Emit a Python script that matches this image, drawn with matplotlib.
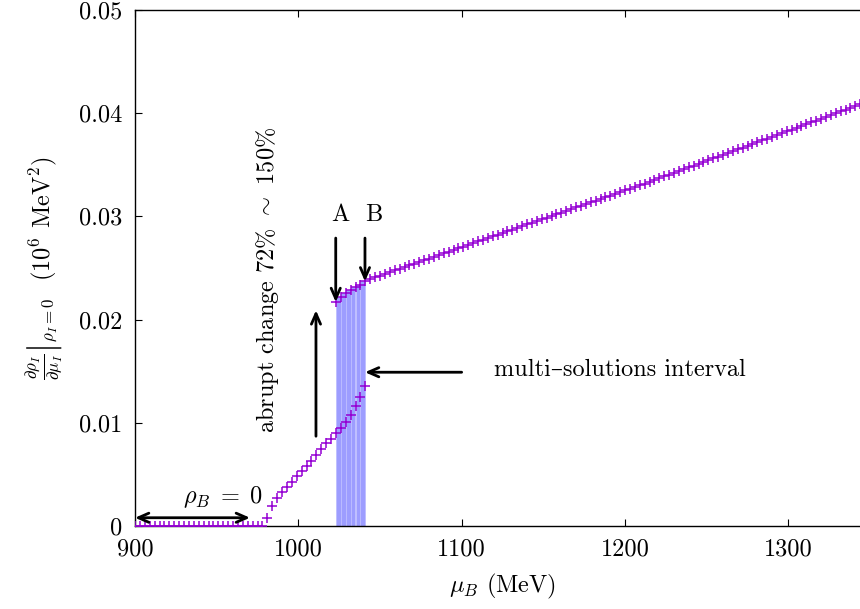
import numpy as np
import matplotlib
matplotlib.use("Agg")
import matplotlib.pyplot as plt

plt.rcParams['font.family'] = ['cmr10', 'DejaVu Serif']
plt.rcParams['mathtext.fontset'] = 'cm'
plt.rcParams['axes.formatter.use_mathtext'] = True
plt.rcParams['axes.unicode_minus'] = False

# ---------------- data ----------------
mu_zero = list(range(900, 979, 3))
val_zero = [0.0] * len(mu_zero)

mu_lower = list(range(981, 1042, 3))
val_lower = [0.0008, 0.0019, 0.0027, 0.0033, 0.0038, 0.0043, 0.0048, 0.0053,
             0.0058, 0.0063, 0.0069, 0.0075, 0.0080, 0.0084, 0.0090, 0.0095,
             0.0101, 0.0108, 0.0116, 0.0125, 0.0136]

mu_upper = list(range(1023, 1351, 3))
val_upper = [0.0217, 0.0222, 0.0226, 0.0229, 0.0232, 0.0234, 0.0237, 0.0239,
             0.02410, 0.02427, 0.02443, 0.02460, 0.02476, 0.02493, 0.02509, 0.02526,
             0.02542, 0.02559, 0.02575, 0.02592, 0.02608, 0.02625, 0.02641, 0.02658,
             0.02674, 0.02691, 0.02707, 0.02724, 0.02740, 0.02757, 0.02773, 0.02790,
             0.02806, 0.02823, 0.02839, 0.02856, 0.02872, 0.02889, 0.02905, 0.02922,
             0.02938, 0.02955, 0.02971, 0.02988, 0.03004, 0.03021, 0.03037, 0.03054,
             0.03070, 0.03087, 0.03103, 0.03120, 0.03136, 0.03153, 0.03169, 0.03186,
             0.03202, 0.03219, 0.03235, 0.03252, 0.03268, 0.03285, 0.03301, 0.03318,
             0.03334, 0.03352, 0.03369, 0.03387, 0.03404, 0.03422, 0.03439, 0.03457,
             0.03474, 0.03492, 0.03509, 0.03527, 0.03544, 0.03562, 0.03579, 0.03597,
             0.03614, 0.03632, 0.03649, 0.03667, 0.03684, 0.03702, 0.03719, 0.03737,
             0.03754, 0.03772, 0.03789, 0.03807, 0.03824, 0.03842, 0.03859, 0.03877,
             0.03894, 0.03912, 0.03929, 0.03947, 0.03964, 0.03982, 0.03999, 0.04017,
             0.04034, 0.04052, 0.04069, 0.04087, 0.04104, 0.04122]

# multi-solution shaded interval (bars)
mu_band = [1023, 1026, 1029, 1032, 1035, 1038]
val_band = [0.0222, 0.0226, 0.0229, 0.0232, 0.0234, 0.0237]

xticks = [900, 1000, 1100, 1200, 1300]
yticks = [0, 0.01, 0.02, 0.03, 0.04, 0.05]
ytick_labels = ['0', '0.01', '0.02', '0.03', '0.04', '0.05']

# ---------------- figure ----------------
W, H = 860, 609
fig = plt.figure(figsize=(W / 100, H / 100), dpi=100)
ax = fig.add_axes([135 / W, 1 - 526 / H, (870 - 135) / W, (526 - 10) / H])

ax.bar(mu_band, val_band, width=3, align='edge', color='#9d9dff',
       edgecolor='#bdbdff', linewidth=0.6, zorder=1)

mk = dict(marker='+', linestyle='none', color='#9400d3', markersize=7,
          markeredgewidth=1.1, zorder=3)
ax.plot(mu_zero, val_zero, **mk)
ax.plot(mu_lower, val_lower, **mk)
ax.plot(mu_upper, val_upper, **mk)

ax.set_xlim(900, 1350)
ax.set_ylim(0, 0.05)
ax.set_xticks(xticks)
ax.set_xticklabels([str(t) for t in xticks])
ax.set_yticks(yticks)
ax.set_yticklabels(ytick_labels)

fs = 17.5
ax.tick_params(direction='in', length=5, width=0.8, top=True, right=True,
               labelsize=fs, pad=9)
for s in ax.spines.values():
    s.set_linewidth(1.0)

ax.set_xlabel(r'$\mu_B$ (MeV)', fontsize=fs, labelpad=8)
ax.set_ylabel(r'$\left.\frac{\partial\rho_I}{\partial\mu_I}\right|_{\rho_I=0}$  (10$^6$ MeV$^2$)',
              fontsize=fs, labelpad=10)

ap = dict(arrowstyle='->,head_length=0.75,head_width=0.33', lw=2, color='black',
          shrinkA=0, shrinkB=0)
ax.annotate('', xy=(1010.8, 0.0209), xytext=(1010.8, 0.0087), arrowprops=ap)
ax.annotate('', xy=(1022.9, 0.0217), xytext=(1022.9, 0.0279), arrowprops=ap)
ax.annotate('', xy=(1040.8, 0.0237), xytext=(1040.8, 0.0279), arrowprops=ap)
ax.annotate('', xy=(1040.8, 0.0149), xytext=(1100, 0.0149), arrowprops=ap)
ax.annotate('', xy=(900, 0.0008), xytext=(970.4, 0.0008),
            arrowprops=dict(ap, arrowstyle='<->,head_length=0.75,head_width=0.33'))

ax.text(1025.5, 0.0301, 'A', fontsize=fs, ha='center', va='center')
ax.text(1045.9, 0.0301, 'B', fontsize=fs, ha='center', va='center')
ax.text(1119.8, 0.0151, 'multi\u2013solutions interval', fontsize=fs,
        ha='left', va='center')
ax.text(953.6, 0.0028, r'$\rho_B\;=\;0$', fontsize=fs, ha='center', va='center')
ax.text(981.4, 0.0238, r'abrupt change 72% $\sim$ 150%', fontsize=fs,
        rotation=90, ha='center', va='center')

fig.savefig('out.png', dpi=100)
